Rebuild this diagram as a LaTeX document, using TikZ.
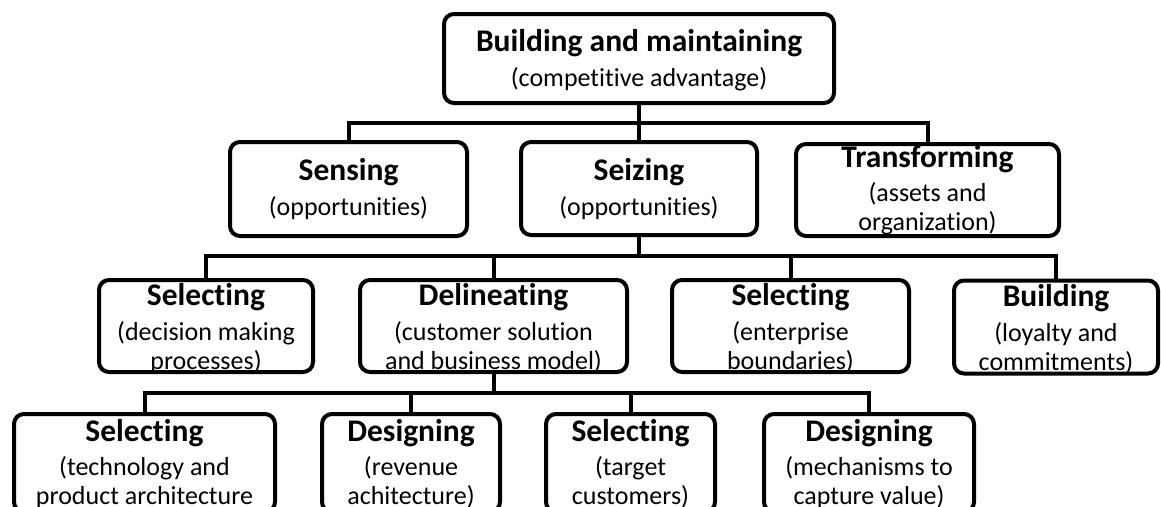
\documentclass[tikz,border=0pt]{standalone}
\usepackage{fontspec}
\setmainfont{Carlito}[Ligatures={NoCommon,NoRequired,NoContextual}, RawFeature=-calt]
\usetikzlibrary{positioning,calc}
\newcommand{\hd}[1]{{\fontsize{31.5}{33}\selectfont\bfseries #1}}
\newcommand{\tbrk}{t\kern0pt }% keeps t and i apart

\begin{document}
\begin{tikzpicture}[
    x=1pt, y=-1pt,
    box/.style={rectangle, rounded corners=10pt, draw, line width=4pt, align=center, inner sep=1pt, font=\fontsize{26}{29}\selectfont},
    link/.style={line width=4pt}
]
\useasboundingbox (0,0) rectangle (1161,506);
\clip (0,0) rectangle (1161,506);

% Bus heights
\coordinate (busA) at (0,123);
\coordinate (busB) at (0,256);
\coordinate (busC) at (0,393);

% Top level
\node[box, text depth=2pt, minimum width=390pt, minimum height=89pt] (top) at (639,58.5) {\hd{Building and maintaining}\\[6pt](compe\tbrk itive advantage)};

% Second level
\node[box, text depth=4pt, minimum width=237pt, minimum height=94pt] (sensing) at (348.5,189) {\hd{Sensing}\\[6pt](opportuni\tbrk ies)};
\node[box, text depth=4pt, minimum width=236pt, minimum height=93pt] (seizing) at (639,188.5) {\hd{Seizing}\\[6pt](opportuni\tbrk ies)};
\node[box, text depth=4pt, minimum width=263pt, minimum height=92pt] (transform) at (927.5,190) {\hd{Transforming}\\[5pt](assets and\\organiza\tbrk ion)};

% Third level
\node[box, text depth=0pt, minimum width=214pt, minimum height=92pt] (seldecision) at (206,326) {\hd{Selec\tbrk ing}\\[6pt](decision making\\processes)};
\node[box, text depth=0pt, minimum width=267pt, minimum height=92pt] (delineate) at (493.5,326) {\hd{Delineating}\\[6pt](customer solution\\and business model)};
\node[box, text depth=0pt, minimum width=237pt, minimum height=92pt] (selenterprise) at (790.5,326) {\hd{Selec\tbrk ing}\\[6pt](enterprise\\boundaries)};
\node[box, text depth=0pt, minimum width=204pt, minimum height=93pt] (building) at (1056,327) {\hd{Building}\\[6pt](loyalty and\\commitments)};

% Fourth level (cut at the bottom)
\node[box, text depth=2pt, minimum width=261pt, minimum height=98pt] (seltech) at (144.5,463) {\hd{Selec\tbrk ing}\\[5pt](technology and\\product architecture};
\node[box, text depth=2pt, minimum width=178pt, minimum height=98pt] (desrevenue) at (411,463) {\hd{Designing}\\[5pt](revenue\\achitecture)};
\node[box, text depth=2pt, minimum width=169pt, minimum height=98pt] (seltarget) at (630.5,463) {\hd{Selec\tbrk ing}\\[5pt](target\\customers)};
\node[box, text depth=2pt, minimum width=210pt, minimum height=98pt] (desmechanism) at (869,463) {\hd{Designing}\\[5pt](mechanisms to\\capture value)};

% Top to second level
\draw[link] (top) -- (seizing);
\draw[link] (sensing.north) |- (transform.north |- busA) -- (transform.north);

% Seizing to third level
\draw[link] (seizing.south) -- (seizing.south |- busB);
\draw[link] (seldecision.north) |- (building.north |- busB) -- (building.north);
\draw[link] (delineate.north) -- (delineate.north |- busB);
\draw[link] (selenterprise.north) -- (selenterprise.north |- busB);

% Delineating to fourth level
\draw[link] (delineate.south) -- (delineate.south |- busC);
\draw[link] (seltech.north) |- (desmechanism.north |- busC) -- (desmechanism.north);
\draw[link] (desrevenue.north) -- (desrevenue.north |- busC);
\draw[link] (seltarget.north) -- (seltarget.north |- busC);

\end{tikzpicture}
\end{document}
